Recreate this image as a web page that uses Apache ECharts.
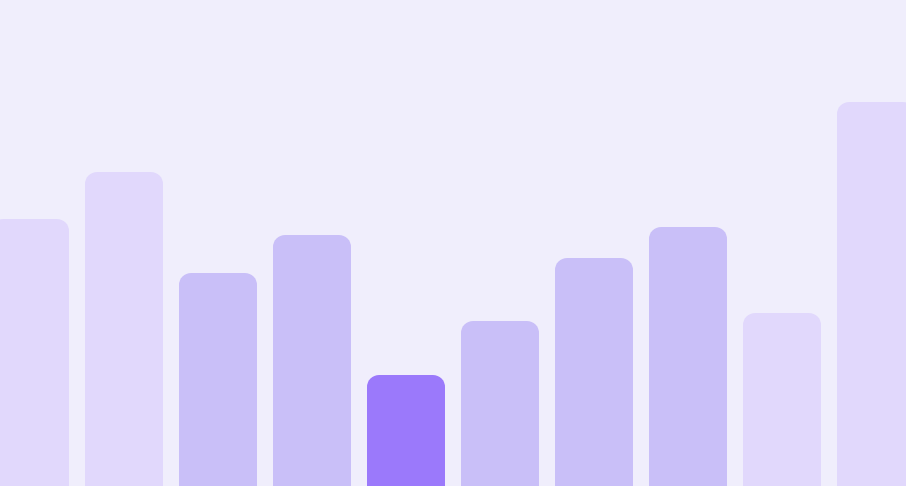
<!DOCTYPE html>
<html>
<head>
<meta charset="utf-8">
<script src="https://cdn.jsdelivr.net/npm/echarts@6/dist/echarts.min.js"></script>
<style>
html,body{margin:0;padding:0;background:#f0eefc;overflow:hidden;width:906px;height:486px;}
#c{position:absolute;left:-17px;top:0;width:940px;height:486px;}
</style>
</head>
<body>
<div id="c"></div>
<script>
const categories = ['1','2','3','4','5','6','7','8','9','10'];
const values = [267, 314, 213, 251, 111, 165, 228, 259, 173, 384];
const tones = ['light','light','mid','mid','dark','mid','mid','mid','light','light'];
const toneColors = {light:'#e1d8fc', mid:'#c9bff8', dark:'#9b79fb'};

const chart = echarts.init(document.getElementById('c'));
chart.setOption({
  backgroundColor: '#f0eefc',
  animation: false,
  grid: {left: 0, right: 0, top: 0, bottom: 0},
  xAxis: {type: 'category', data: categories, show: false},
  yAxis: {type: 'value', min: 0, max: 486, show: false},
  series: [{
    type: 'bar',
    barWidth: 78,
    data: values.map((v, i) => ({
      value: v,
      itemStyle: {color: toneColors[tones[i]], borderRadius: [12, 12, 0, 0]}
    }))
  }]
});
</script>
</body>
</html>
